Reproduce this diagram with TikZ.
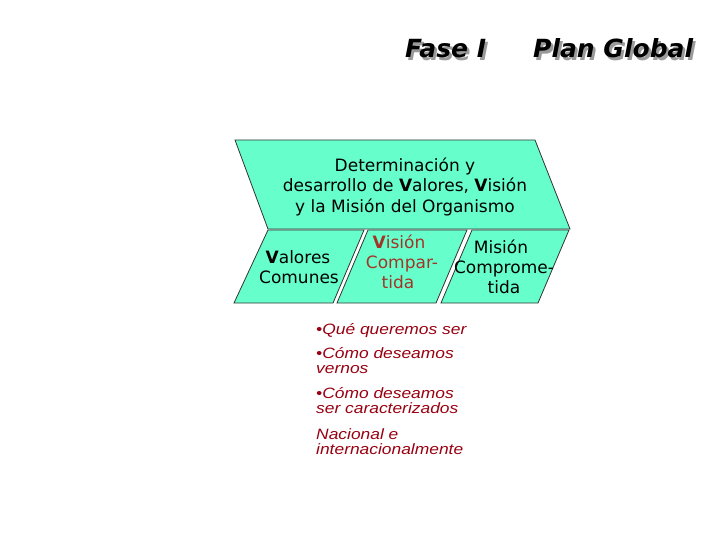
\documentclass[tikz,border=0pt]{standalone}
\usepackage{fontspec}
\setmainfont{DejaVu Sans}
\newfontfamily\arialwide[FakeStretch=1.16]{Liberation Sans}
\definecolor{aquafill}{HTML}{66FFCC}
\definecolor{edgegray}{HTML}{333333}
\definecolor{visred}{HTML}{A33428}
\definecolor{bulletred}{HTML}{990011}
\definecolor{shadowgray}{HTML}{9A9A9A}
\begin{document}
\begin{tikzpicture}[x=1pt,y=-1pt,
  panel/.style={fill=aquafill,draw=edgegray,line width=0.8pt,line join=miter},
  paneltext/.style={inner sep=0pt,font=\fontsize{17}{19.5}\selectfont},
  titletext/.style={inner sep=0pt,anchor=base west,font=\fontsize{25}{28}\selectfont\bfseries\itshape},
  bullettext/.style={inner sep=0pt,anchor=base west,text=bulletred,font=\arialwide\itshape\fontsize{15}{15}\selectfont}]
\useasboundingbox (0,0) rectangle (720,540);
\fill[white] (0,0) rectangle (720,540);
% title with shadow
\node[titletext,text=shadowgray] (faseshadow) at (407.5,60.5) {Fase I};
\node[titletext] (fase) at (405,58) {Fase I};
\node[titletext,text=shadowgray] (planshadow) at (535.5,60.5) {Plan Global};
\node[titletext] (plan) at (533,58) {Plan Global};
% panels
\draw[panel] (235,140) -- (535,140) -- (570,229) -- (268,229) -- cycle;
\draw[panel] (268,230) -- (364,230) -- (333,303) -- (234,303) -- cycle;
\draw[panel] (368,230) -- (467,230) -- (436,303) -- (337,303) -- cycle;
\draw[panel] (472,230) -- (569,230) -- (538,303) -- (441,303) -- cycle;
% top panel text
\node[paneltext,anchor=base] (top1) at (405,172) {Determinación y};
\node[paneltext,anchor=base] (top2) at (405,192) {desarrollo de {\bfseries V}alores, {\bfseries V}isión};
\node[paneltext,anchor=base] (top3) at (405,212) {y la Misión del Organismo};
% bottom panels text
\node[paneltext,anchor=base] (val1) at (298,263) {{\bfseries V}alores};
\node[paneltext,anchor=base] (val2) at (299,283) {Comunes};
\node[paneltext,anchor=base,text=visred] (vis1) at (399,248) {{\bfseries V}isión};
\node[paneltext,anchor=base,text=visred] (vis2) at (402,268) {Compar-};
\node[paneltext,anchor=base,text=visred] (vis3) at (398,288) {tida};
\node[paneltext,anchor=base] (mis1) at (501,253) {Misión};
\node[paneltext,anchor=base] (mis2) at (504,273) {Comprome-};
\node[paneltext,anchor=base] (mis3) at (504,293) {tida};
% bullet list
\node[bullettext] (b1) at (316,334) {•Qué queremos ser};
\node[bullettext] (b2a) at (316,358) {•Cómo deseamos};
\node[bullettext] (b2b) at (316,373) {vernos};
\node[bullettext] (b3a) at (316,398) {•Cómo deseamos};
\node[bullettext] (b3b) at (316,413) {ser caracterizados};
\node[bullettext] (b4a) at (316,439) {Nacional e};
\node[bullettext] (b4b) at (316,454) {internacionalmente};
\end{tikzpicture}
\end{document}
